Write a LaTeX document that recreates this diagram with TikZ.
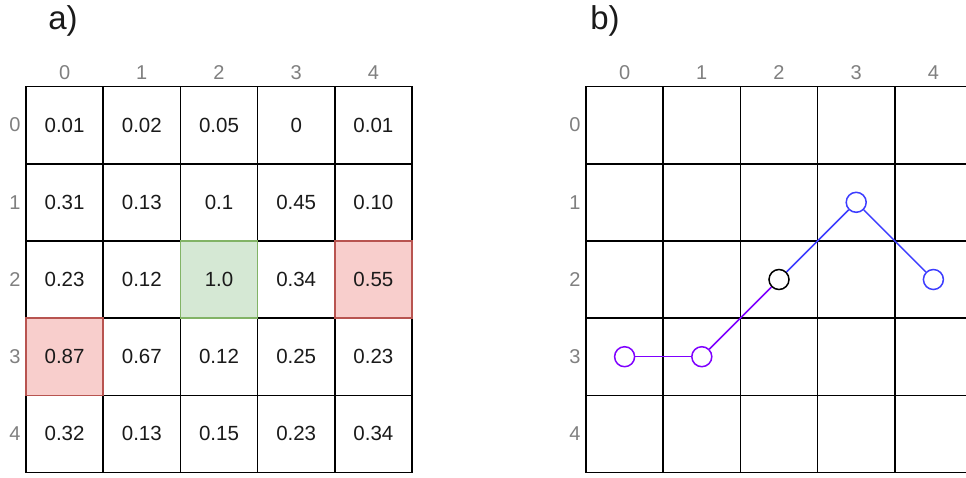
\documentclass[tikz,border=0pt]{standalone}
\usepackage{fontspec}
\setmainfont{Liberation Sans}
\definecolor{txt}{HTML}{1A1A1A}
\definecolor{lbl}{HTML}{808080}
\definecolor{gfill}{HTML}{D5E8D4}
\definecolor{gline}{HTML}{82B366}
\definecolor{rfill}{HTML}{F8CECC}
\definecolor{rline}{HTML}{B85450}
\definecolor{purp}{HTML}{7F00FF}
\definecolor{blu}{HTML}{3D3DFF}
\tikzset{
  cellbox/.style={draw=black, line width=1.6pt, minimum size=77.2pt, inner sep=0pt, anchor=center, text=txt, font=\fontsize{20.5}{20.5}\selectfont},
  goodcell/.style={cellbox, fill=gfill, draw=gline},
  badcell/.style={cellbox, fill=rfill, draw=rline},
  idx/.style={text=lbl, font=\fontsize{20}{20}\selectfont, inner sep=0pt},
  ttl/.style={text=txt, font=\fontsize{33}{33}\selectfont, inner sep=0pt},
  dot/.style={circle, draw=#1, fill=white, line width=1.5pt, minimum size=20pt, inner sep=0pt},
  link/.style={draw=#1, line width=1.5pt},
}
\begin{document}
\begin{tikzpicture}[x=1pt,y=-1pt]
\clip (0,0) rectangle (966,477);
\fill[white] (0,0) rectangle (966,477);
\node[ttl] (ta) at (63,21) {a)};
\node[ttl] (tb) at (605,21) {b)};
% left grid values
\def\vals{{{"0.01","0.02","0.05","0","0.01"},{"0.31","0.13","0.1","0.45","0.10"},{"0.23","0.12","1.0","0.34","0.55"},{"0.87","0.67","0.12","0.25","0.23"},{"0.32","0.13","0.15","0.23","0.34"}}}
\foreach \r in {0,...,4}{
  \foreach \c in {0,...,4}{
    \pgfmathsetmacro{\v}{\vals[\r][\c]}
    \node[cellbox] (a-\r-\c) at ({26+38.6+77.2*\c},{86.5+38.6+77.2*\r}) {\v};
  }
}
\node[goodcell] (a-2-2h) at (a-2-2) {1.0};
\node[badcell] (a-2-4h) at (a-2-4) {0.55};
\node[badcell] (a-3-0h) at (a-3-0) {0.87};
\foreach \i in {0,...,4}{
  \node[idx] (ac-\i) at ({26+38.6+77.2*\i},73) {\i};
  \node[idx] (ar-\i) at (15,{86.5+38.6+77.2*\i}) {\i};
}
% right grid
\foreach \r in {0,...,4}{
  \foreach \c in {0,...,4}{
    \node[cellbox] (b-\r-\c) at ({586+38.6+77.2*\c},{86.5+38.6+77.2*\r}) {};
  }
}
\foreach \i in {0,...,4}{
  \node[idx] (bc-\i) at ({586+38.6+77.2*\i},73) {\i};
  \node[idx] (br-\i) at (575,{86.5+38.6+77.2*\i}) {\i};
}
\node[dot=purp] (p0) at (b-3-0) {};
\node[dot=purp] (p1) at (b-3-1) {};
\node[dot=black] (p2) at (b-2-2) {};
\node[dot=blu] (p3) at (b-1-3) {};
\node[dot=blu] (p4) at (b-2-4) {};
\draw[link=purp] (p0) -- (p1);
\draw[link=purp] (p1) -- (p2);
\draw[link=blu] (p2) -- (p3);
\draw[link=blu] (p3) -- (p4);
\end{tikzpicture}
\end{document}
